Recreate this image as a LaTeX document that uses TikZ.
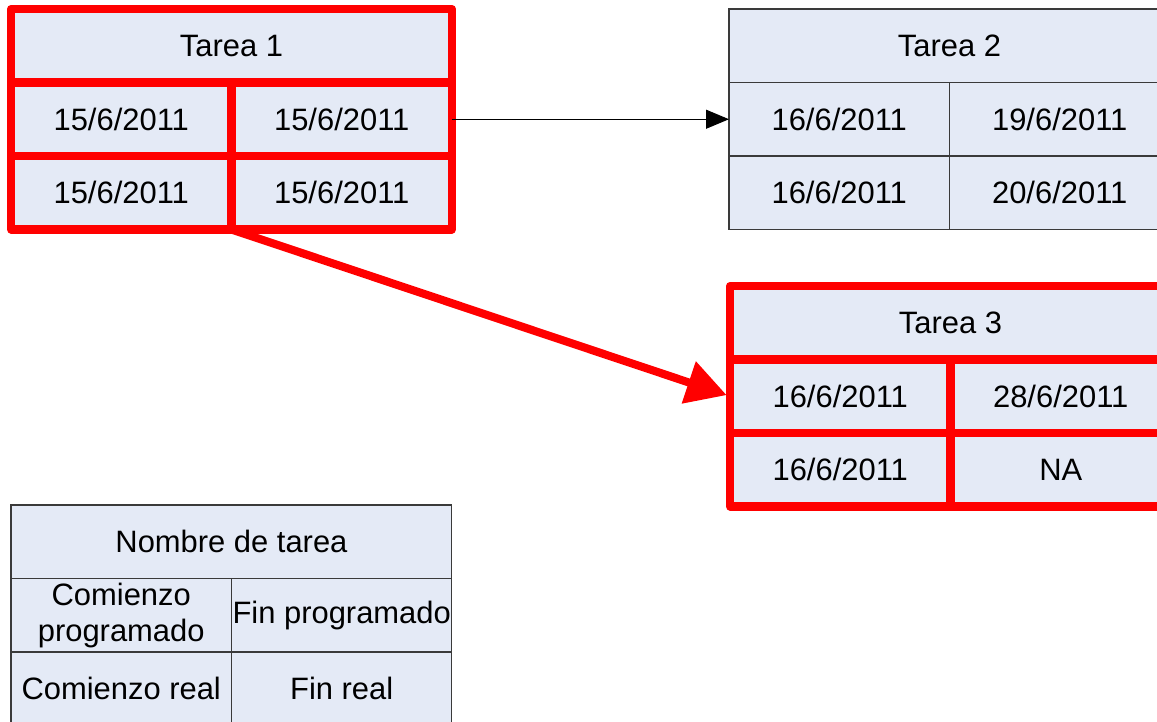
\documentclass[tikz,border=0pt]{standalone}
\usepackage{fontspec}
\setmainfont{Liberation Sans}
\usetikzlibrary{arrows.meta}
\definecolor{fond}{HTML}{E4EAF6}
\definecolor{trait}{HTML}{3A3A3A}
\tikzset{
  case/.style={draw=trait, line width=0.6pt, fill=fond, inner sep=0pt, outer sep=0pt,
    minimum height=1.47cm, align=center, anchor=north west,
    font=\fontsize{17.6}{20.5}\selectfont},
  large/.style={minimum width=8.82cm},
  demi/.style={minimum width=4.41cm},
  rouge/.style={draw=red, line width=4.6pt, line join=round}
}

\begin{document}
\begin{tikzpicture}[x=0.02cm, y=-0.02cm]
  \clip (0,0) rectangle (1157,722);
  \fill[white] (0,0) rectangle (1157,722);
  % Tarea 1 : chemin critique, bords rouges
  \node[case, large, rouge] (t1) at (11,9) {Tarea 1};
  \node[case, demi, rouge] (t1a) at (11,82.5) {15/6/2011};
  \node[case, demi, rouge] (t1b) at (231.5,82.5) {15/6/2011};
  \node[case, demi, rouge] (t1c) at (11,156) {15/6/2011};
  \node[case, demi, rouge] (t1d) at (231.5,156) {15/6/2011};
  % Tarea 2
  \node[case, large] (t2) at (729,9) {Tarea 2};
  \node[case, demi] (t2a) at (729,82.5) {16/6/2011};
  \node[case, demi] (t2b) at (949.5,82.5) {19/6/2011};
  \node[case, demi] (t2c) at (729,156) {16/6/2011};
  \node[case, demi] (t2d) at (949.5,156) {20/6/2011};
  % Tarea 3 : chemin critique
  \node[case, large, rouge] (t3) at (730,286) {Tarea 3};
  \node[case, demi, rouge] (t3a) at (730,359.5) {16/6/2011};
  \node[case, demi, rouge] (t3b) at (950.5,359.5) {28/6/2011};
  \node[case, demi, rouge] (t3c) at (730,433) {16/6/2011};
  \node[case, demi, rouge] (t3d) at (950.5,433) {NA};
  % Legende
  \node[case, large] (lg) at (11,505) {Nombre de tarea};
  \node[case, demi] (lga) at (11,578.5) {Comienzo\\programado};
  \node[case, demi] (lgb) at (231.5,578.5) {Fin programado};
  \node[case, demi] (lgc) at (11,652) {Comienzo real};
  \node[case, demi] (lgd) at (231.5,652) {Fin real};
  % Liens
  \draw[black, line width=0.6pt, -{Triangle[length=0.46cm, width=0.38cm]}] (t1b.east) -- (t2a.west);
  \draw[red, line width=4.6pt, -{Triangle[length=0.8cm, width=0.85cm]}, shorten >=2pt] (t1c.south east) -- (t3a.west);
\end{tikzpicture}
\end{document}
